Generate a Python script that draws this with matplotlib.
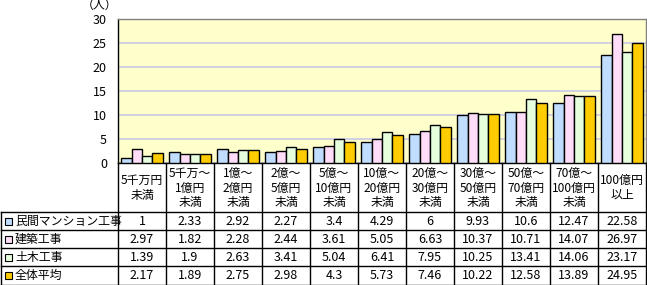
import matplotlib
matplotlib.use('Agg')
import matplotlib.pyplot as plt
from matplotlib.patches import Rectangle
import numpy as np

plt.rcParams['font.family'] = ['Noto Sans CJK JP', 'DejaVu Sans']

# data
categories = ['5千万円\n未満', '5千万～\n1億円\n未満', '1億～\n2億円\n未満', '2億～\n5億円\n未満',
              '5億～\n10億円\n未満', '10億～\n20億円\n未満', '20億～\n30億円\n未満',
              '30億～\n50億円\n未満', '50億～\n70億円\n未満', '70億～\n100億円\n未満',
              '100億円\n以上']
series_names = ['民間マンション工事', '建築工事', '土木工事', '全体平均']
minkan = [1, 2.33, 2.92, 2.27, 3.4, 4.29, 6, 9.93, 10.6, 12.47, 22.58]
kenchiku = [2.97, 1.82, 2.28, 2.44, 3.61, 5.05, 6.63, 10.37, 10.71, 14.07, 26.97]
doboku = [1.39, 1.9, 2.63, 3.41, 5.04, 6.41, 7.95, 10.25, 13.41, 14.06, 23.17]
zentai = [2.17, 1.89, 2.75, 2.98, 4.3, 5.73, 7.46, 10.22, 12.58, 13.89, 24.95]
series = [minkan, kenchiku, doboku, zentai]
colors = ['#C0DCFF', '#FFDDF8', '#E6FFDD', '#FFCC00']

W, H = 647, 285
L, R, T, B = 118, 646, 19, 163   # plot area in pixels
fs = 8.6
nfs = 9

fig = plt.figure(figsize=(W / 100, H / 100), dpi=100)
ax = fig.add_axes([L / W, 1 - B / H, (R - L) / W, (B - T) / H])
ax.set_facecolor('#FFFFCC')

n = len(categories)
x = np.arange(n)
bw = 0.217
for k, vals in enumerate(series):
    ax.bar(x + (k - 1.5) * bw, vals, bw, color=colors[k], edgecolor='black', linewidth=1.0, zorder=3)

ax.set_xlim(-0.5, n - 0.5)
ax.set_ylim(0, 30)
ax.set_yticks(range(0, 31, 5))
ax.set_xticks([])
ax.yaxis.grid(True, color='#C8C8E6', linewidth=1.2, zorder=0)
ax.tick_params(axis='y', length=0, pad=8, labelsize=nfs)
for s in ['top', 'right']:
    ax.spines[s].set_color('#808080')
for s in ['left', 'bottom']:
    ax.spines[s].set_color('black')
for s in ax.spines.values():
    s.set_linewidth(1.0)

# overlay in pixel coordinates for the data table
tb = fig.add_axes([0, 0, 1, 1], zorder=5)
tb.set_xlim(0, W)
tb.set_ylim(H, 0)
tb.axis('off')
tb.patch.set_alpha(0)

tb.text(100, 5, '（人）', ha='center', va='center', fontsize=fs)

cw = (R - L) / n
head_bot = 212
rh = (H - 0.5 - head_bot) / 4
lc = 'black'
# vertical lines
for i in range(n + 1):
    xx = L + i * cw
    tb.plot([xx, xx], [B, H - 0.5], color=lc, lw=1.0)
tb.plot([0.5, 0.5], [head_bot, H - 0.5], color=lc, lw=1.0)
# horizontal lines
for j in range(5):
    yy = head_bot + j * rh
    tb.plot([0.5, R], [yy, yy], color=lc, lw=1.0)

# header text
pitch = 14.7
for i, c in enumerate(categories):
    lines = c.split('\n')
    y0 = 188 - pitch * (len(lines) - 1) / 2
    for m, ln in enumerate(lines):
        tb.text(L + (i + 0.5) * cw, y0 + m * pitch, ln, ha='center', va='center', fontsize=fs)

# rows
for j, (name, vals) in enumerate(zip(series_names, series)):
    yc = head_bot + (j + 0.5) * rh
    tb.add_patch(Rectangle((5, yc - 3.5), 7, 7, facecolor=colors[j], edgecolor='black', lw=0.8))
    tb.text(15, yc, name, ha='left', va='center', fontsize=fs)
    for i, v in enumerate(vals):
        tb.text(L + (i + 0.5) * cw, yc, f'{v:g}', ha='center', va='center', fontsize=nfs)

fig.savefig('out.png', dpi=100)
